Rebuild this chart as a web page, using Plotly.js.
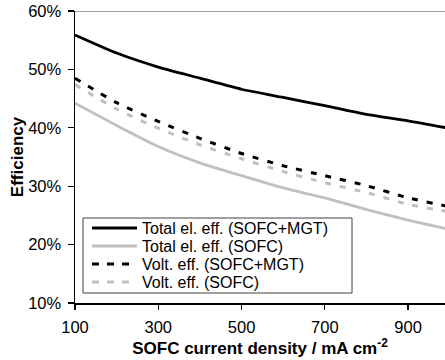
<!DOCTYPE html>
<html>
<head>
<meta charset="utf-8">
<script src="https://cdn.plot.ly/plotly-3.0.1.min.js"></script>
<style>
  html, body { margin: 0; padding: 0; background: #ffffff; }
  #chart { width: 445px; height: 360px; }
</style>
</head>
<body>
<div id="chart"></div>
<script>
// Data (efficiency in %)
const currentDensity = [100, 200, 300, 400, 500, 600, 700, 800, 900, 1000];
const totalSofcMgt   = [55.9, 52.8, 50.4, 48.5, 46.6, 45.2, 43.8, 42.3, 41.2, 39.9];
const totalSofc      = [44.2, 40.4, 36.8, 34.0, 31.8, 29.7, 28.0, 26.0, 24.2, 22.6];
const voltSofcMgt    = [48.5, 44.3, 41.1, 38.2, 35.6, 33.5, 31.8, 30.1, 28.0, 26.5];
const voltSofc       = [47.4, 43.2, 39.9, 37.1, 34.7, 32.5, 30.6, 28.9, 26.9, 25.6];

const seriesNames = [
  'Total el. eff. (SOFC+MGT)',
  'Total el. eff. (SOFC)',
  'Volt. eff. (SOFC+MGT)',
  'Volt. eff. (SOFC)'
];
const yTickVals = [10, 20, 30, 40, 50, 60];
const xTickVals = [100, 300, 500, 700, 900];

const FONT = 'Liberation Sans, Arial, sans-serif';
const BLACK = '#000000';
const GREY = '#c0c0c0';
const DASH = '6px,9px';

const styles = [
  {color: BLACK, width: 2.8, dash: 'solid'},
  {color: GREY,  width: 2.8, dash: 'solid'},
  {color: BLACK, width: 3,   dash: DASH},
  {color: GREY,  width: 3,   dash: DASH}
];
const seriesValues = [totalSofcMgt, totalSofc, voltSofcMgt, voltSofc];

const traces = seriesValues.map((vals, i) => ({
  type: 'scatter',
  mode: 'lines',
  x: currentDensity,
  y: vals,
  name: seriesNames[i],
  line: {color: styles[i].color, width: styles[i].width, dash: styles[i].dash, shape: 'spline', smoothing: 0.6},
  showlegend: false,
  hoverinfo: 'skip'
}));

// Compact legend like the original, drawn in paper coordinates
const plotL = 75, plotR = 445, plotT = 11, plotB = 303;
const pw = plotR - plotL, ph = plotB - plotT;
const px = x => (x - plotL) / pw;
const py = y => (plotB - y) / ph;

const legendRows = [228, 246, 264, 282];
const shapes = [
  // top frame line
  {type: 'line', xref: 'paper', yref: 'y', x0: 0, x1: 1, y0: 60, y1: 60,
   line: {color: '#808080', width: 1.5}, layer: 'above'},
  // legend box
  {type: 'rect', xref: 'paper', yref: 'paper', x0: px(83), x1: px(352), y0: py(293), y1: py(218),
   line: {color: '#404040', width: 1}, fillcolor: '#ffffff', layer: 'above'}
];
const annotations = [];
legendRows.forEach((yy, i) => {
  shapes.push({type: 'line', xref: 'paper', yref: 'paper',
    x0: px(92), x1: px(137), y0: py(yy), y1: py(yy),
    line: {color: styles[i].color, width: 3, dash: i >= 2 ? '7px,8px' : 'solid'}, layer: 'above'});
  annotations.push({xref: 'paper', yref: 'paper', x: px(141), y: py(yy + 0.5),
    xanchor: 'left', yanchor: 'middle', showarrow: false, text: seriesNames[i],
    borderpad: 0,
    font: {family: FONT, size: 16, color: '#000'}});
});

const layout = {
  width: 445,
  height: 360,
  margin: {l: plotL, r: 445 - plotR, t: plotT, b: 360 - plotB, pad: 0},
  paper_bgcolor: '#ffffff',
  plot_bgcolor: '#ffffff',
  showlegend: false,
  font: {family: FONT, size: 16.5, color: '#000'},
  xaxis: {
    range: [100, 988.7],
    tickvals: xTickVals,
    ticktext: xTickVals.map(String),
    ticks: 'outside',
    ticklen: 5,
    tickwidth: 1.3,
    tickcolor: '#000',
    ticklabelstandoff: 4,
    showline: true,
    linecolor: '#000',
    linewidth: 1.5,
    showgrid: false,
    zeroline: false,
    tickfont: {family: FONT, size: 16.5, color: '#000'},
    title: {text: '<b>SOFC current density / mA cm<sup>-2</sup></b>',
            font: {family: FONT, size: 17, color: '#000'}, standoff: 0}
  },
  yaxis: {
    range: [10, 60],
    tickvals: yTickVals,
    ticktext: yTickVals.map(v => v + '%'),
    ticks: 'outside',
    ticklen: 6,
    tickwidth: 1.3,
    tickcolor: '#000',
    ticklabelstandoff: 3,
    showline: true,
    linecolor: '#000',
    linewidth: 1.5,
    showgrid: false,
    zeroline: false,
    tickfont: {family: FONT, size: 16.5, color: '#000'},
    title: {text: '<b>Efficiency</b>', font: {family: FONT, size: 17, color: '#000'}, standoff: 0}
  },
  shapes: shapes,
  annotations: annotations
};

Plotly.newPlot('chart', traces, layout, {displayModeBar: false, staticPlot: true});
</script>
</body>
</html>
